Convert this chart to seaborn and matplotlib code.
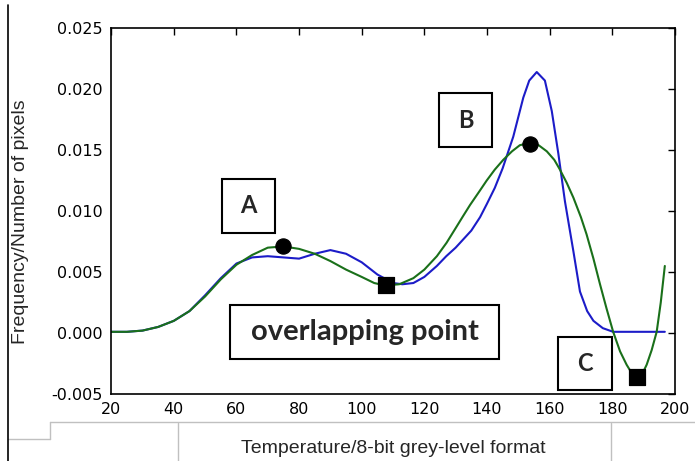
import matplotlib
matplotlib.use("Agg")
import matplotlib.pyplot as plt
import seaborn as sns
from matplotlib.patches import Rectangle
from matplotlib.lines import Line2D

# histogram curve (blue)
x_blue = [20, 25, 30, 35, 40, 45, 50, 55, 60, 65, 70, 75, 80, 85, 90, 95, 100,
          105, 110, 113, 116.5, 120, 124, 127, 130, 132.5, 135, 137.8, 140,
          142.5, 145, 148.4, 151.6, 153.5, 155.9, 158.5, 160.7, 162.8, 164.9,
          167.6, 169.7, 172, 174, 177, 180.3, 185, 190, 196.8]
y_blue = [0.0001, 0.0001, 0.0002, 0.0005, 0.0010, 0.0018, 0.0031, 0.0045, 0.0057,
          0.0062, 0.0063, 0.0062, 0.0061, 0.0065, 0.0068, 0.0065, 0.0058, 0.0048,
          0.0041, 0.0040, 0.0041, 0.0046, 0.0055, 0.0063, 0.0070, 0.0077, 0.0084,
          0.0095, 0.0106, 0.0119, 0.0135, 0.0161, 0.0193, 0.0207, 0.0214, 0.0207,
          0.0182, 0.0147, 0.0108, 0.0067, 0.0034, 0.0018, 0.0010, 0.0004, 0.0001,
          0.0001, 0.0001, 0.0001]

# fitted curve (green)
x_green = [20, 25, 30, 35, 40, 45, 50, 55, 60, 65, 70, 75, 80, 85, 90, 95, 100,
           104, 107.5, 112, 116.5, 120, 124, 127.1, 130, 132.4, 134.6, 137.8,
           139.9, 142.5, 145.2, 148, 150.5, 153.7, 156.5, 159.1, 161.5, 163.3,
           165.5, 167.6, 170, 171.8, 174, 176.1, 178.2, 180.3, 182.5, 184.6,
           186.5, 188, 189.5, 191, 192.6, 194.2, 195.5, 196.8]
y_green = [0.0001, 0.0001, 0.0002, 0.0005, 0.0010, 0.0018, 0.0030, 0.0044, 0.0056,
           0.0064, 0.0070, 0.0071, 0.0069, 0.0065, 0.0059, 0.0052, 0.0046, 0.0041,
           0.0039, 0.0040, 0.0045, 0.0052, 0.0063, 0.0074, 0.0086, 0.0096, 0.0105,
           0.0117, 0.0125, 0.0134, 0.0142, 0.0149, 0.0154, 0.0156, 0.0154, 0.0149,
           0.0142, 0.0134, 0.0123, 0.0111, 0.0095, 0.0081, 0.0061, 0.0040, 0.0020,
           0.0001, -0.0015, -0.0026, -0.0034, -0.0037, -0.0034, -0.0026, -0.0014,
           0.0001, 0.0025, 0.0055]

# peaks (circles) and valleys (squares)
peak_x = [74.8, 153.7]
peak_y = [0.0071, 0.0155]
valley_x = [107.7, 188.0]
valley_y = [0.0039, -0.0036]

x_ticks = [20, 40, 60, 80, 100, 120, 140, 160, 180, 200]
y_ticks = [-0.005, 0.000, 0.005, 0.010, 0.015, 0.020, 0.025]

sns.set_style("white")
plt.rcParams['font.family'] = ['DejaVu Sans']

fig = plt.figure(figsize=(6.95, 4.61), dpi=100)
ax = fig.add_axes([0.160, 0.1453, 0.811, 0.7937])

sns.lineplot(x=x_blue, y=y_blue, color='#1c1cc8', linewidth=1.5, ax=ax, sort=False)
sns.lineplot(x=x_green, y=y_green, color='#1a701a', linewidth=1.5, ax=ax, sort=False)
sns.scatterplot(x=peak_x, y=peak_y, color='black', marker='o', s=120,
                edgecolor='black', ax=ax, zorder=5)
sns.scatterplot(x=valley_x, y=valley_y, color='black', marker='s', s=120,
                edgecolor='black', ax=ax, zorder=5)

ax.set_xlim(20, 200)
ax.set_ylim(-0.005, 0.025)
ax.set_xticks(x_ticks)
ax.set_yticks(y_ticks)
ax.set_yticklabels([f"{v:.3f}" for v in y_ticks])
ax.tick_params(direction='in', length=5, width=1, top=True, right=True,
               labelsize=11.5, pad=6, colors='black')
for sp in ax.spines.values():
    sp.set_color('black')
    sp.set_linewidth(1.2)

ax.set_xlabel("Temperature/8-bit grey-level format", fontsize=14,
              family='Liberation Sans')
ax.xaxis.set_label_coords(0.5, -0.125)
ax.set_ylabel("Frequency/Number of pixels", fontsize=14, family='Liberation Sans')
ax.yaxis.set_label_coords(-0.145, 0.47)

# boxed annotations
boxes = [(55.4, 0.0082, 16.9, 0.00445, "A", 17),
         (124.7, 0.01528, 16.9, 0.00437, "B", 17),
         (162.7, -0.00463, 17.2, 0.00428, "C", 17),
         (58.0, -0.00213, 85.8, 0.00441, "overlapping point", 21)]
for bx, by, bw, bh, label, fs in boxes:
    ax.add_patch(Rectangle((bx, by), bw, bh, fill=True, facecolor='white',
                           edgecolor='black', linewidth=1.5, zorder=6))
    ax.text(bx + bw / 2, by + bh / 2, label, ha='center', va='center',
            fontsize=fs, fontweight='bold', family='Lato', zorder=7)

# screenshot frame lines
grey = '#c0c0c0'
W, H = 695.0, 461.0
def fl(x0, y0, x1, y1, c=grey, lw=1):
    fig.add_artist(Line2D([x0 / W, x1 / W], [1 - y0 / H, 1 - y1 / H],
                          color=c, linewidth=lw, transform=fig.transFigure))
fl(50, 422, 695, 422)
fl(50, 422, 50, 439)
fl(8, 439, 50, 439)
fl(178, 423, 178, 461)
fl(611, 423, 611, 461)
fl(8, 5, 8, 461, c='black', lw=1.2)

fig.savefig("out.png", dpi=100)
